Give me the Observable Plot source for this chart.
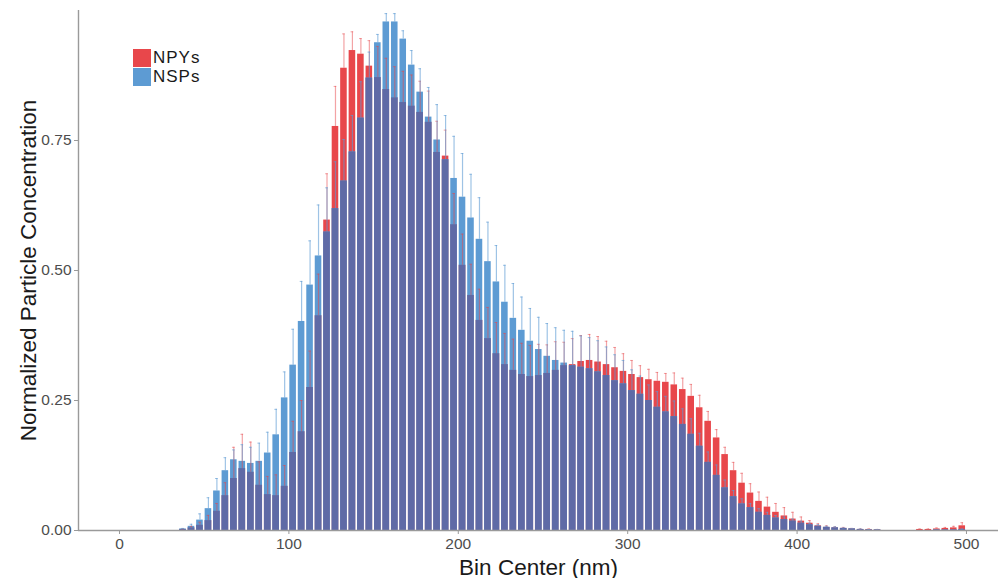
<!DOCTYPE html>
<html><head><meta charset="utf-8">
<script src="https://cdn.jsdelivr.net/npm/d3@7"></script>
<script src="https://cdn.jsdelivr.net/npm/@observablehq/plot@0.6"></script>
<style>
body{margin:0;background:#fff;font-family:"Liberation Sans",Arial,sans-serif;}
#wrap{position:relative;width:1000px;height:578px;}
#legend{position:absolute;left:133px;top:48px;font-size:17px;letter-spacing:1px;color:#1a1a1a;line-height:19px}
#legend div{height:19px;display:flex;align-items:center}
.sw{display:inline-block;width:18px;height:18px;margin-right:2px}
g[aria-label="x-axis label"] text, g[aria-label="y-axis label"] text{font-size:22.5px;fill:#1a1a1a}
</style></head><body><div id="wrap"></div>
<script>
const bins = [37.5,42.5,47.5,52.5,57.5,62.5,67.5,72.5,77.5,82.5,
87.5,92.5,97.5,102.5,107.5,112.5,117.5,122.5,127.5,132.5,
137.5,142.5,147.5,152.5,157.5,162.5,167.5,172.5,177.5,182.5,
187.5,192.5,197.5,202.5,207.5,212.5,217.5,222.5,227.5,232.5,
237.5,242.5,247.5,252.5,257.5,262.5,267.5,272.5,277.5,282.5,
287.5,292.5,297.5,302.5,307.5,312.5,317.5,322.5,327.5,332.5,
337.5,342.5,347.5,352.5,357.5,362.5,367.5,372.5,377.5,382.5,
387.5,392.5,397.5,402.5,407.5,412.5,417.5,422.5,427.5,432.5,
437.5,442.5,447.5,452.5,457.5,462.5,467.5,472.5,477.5,482.5,
487.5,492.5,497.5];
const npy = [0.002,0.005,0.010,0.019,0.037,0.067,0.100,0.119,0.112,0.087,
0.069,0.067,0.085,0.150,0.190,0.275,0.413,0.597,0.777,0.889,
0.923,0.916,0.893,0.871,0.848,0.832,0.823,0.816,0.804,0.785,
0.727,0.720,0.588,0.510,0.452,0.404,0.369,0.340,0.319,0.308,
0.300,0.296,0.298,0.302,0.308,0.317,0.319,0.325,0.327,0.324,
0.319,0.313,0.306,0.300,0.294,0.290,0.287,0.285,0.280,0.271,
0.258,0.236,0.210,0.178,0.146,0.115,0.091,0.072,0.056,0.045,
0.035,0.028,0.022,0.018,0.014,0.009,0.006,0.005,0.004,0.003,
0.002,0.002,0.001,0,0,0,0,0.002,0.002,0.003,
0.004,0.005,0.009];
const nsp = [0.003,0.008,0.020,0.042,0.076,0.115,0.136,0.133,0.129,0.133,
0.149,0.184,0.255,0.318,0.402,0.472,0.528,0.574,0.619,0.672,
0.728,0.793,0.870,0.938,0.978,0.978,0.945,0.895,0.843,0.795,
0.751,0.713,0.677,0.641,0.601,0.560,0.517,0.478,0.439,0.408,
0.385,0.364,0.348,0.335,0.327,0.322,0.317,0.314,0.311,0.305,
0.298,0.288,0.282,0.269,0.262,0.250,0.237,0.228,0.219,0.204,
0.185,0.162,0.131,0.106,0.082,0.065,0.051,0.044,0.035,0.029,
0.024,0.021,0.018,0.014,0.011,0.008,0.006,0.005,0.004,0.003,
0.002,0.001,0.001,0,0,0,0,0,0,0.001,
0.001,0.001,0.002];
const npyErr = [0.001,0.003,0.006,0.010,0.015,0.025,0.060,0.066,0.058,0.045,
0.035,0.040,0.040,0.060,0.060,0.070,0.080,0.089,0.077,0.066,
0.036,0.030,0.049,0.060,0.060,0.060,0.060,0.060,0.060,0.060,
0.060,0.050,0.060,0.060,0.060,0.060,0.060,0.060,0.060,0.060,
0.060,0.060,0.060,0.055,0.055,0.045,0.050,0.050,0.050,0.049,
0.045,0.039,0.034,0.027,0.023,0.020,0.017,0.017,0.023,0.022,
0.023,0.024,0.019,0.016,0.014,0.016,0.019,0.018,0.018,0.019,
0.017,0.016,0.013,0.008,0.005,0.004,0.003,0.002,0.002,0.001,
0.001,0.001,0.001,0,0,0,0,0.001,0.001,0.002,
0.002,0.003,0.006];
const nspErr = [0.001,0.004,0.012,0.021,0.024,0.025,0.019,0.032,0.031,0.035,
0.040,0.049,0.050,0.069,0.077,0.085,0.098,0.085,0.090,0.080,
0.070,0.070,0.050,0.016,0.016,0.016,0.016,0.028,0.045,0.057,
0.068,0.085,0.081,0.084,0.084,0.080,0.076,0.070,0.071,0.067,
0.064,0.063,0.062,0.063,0.063,0.063,0.066,0.060,0.060,0.060,
0.055,0.050,0.045,0.040,0.035,0.030,0.030,0.030,0.030,0.030,
0.030,0.025,0.020,0.020,0.015,0.012,0.010,0.008,0.007,0.006,
0.005,0.005,0.004,0.004,0.003,0.003,0.002,0.002,0.001,0.001,
0.001,0.001,0.001,0,0,0,0,0,0,0,
0,0,0.001];
const xTicks = [0,100,200,300,400,500];
const yTicks = [0,0.25,0.5,0.75];
const seriesNames = ["NPYs","NSPs"];
const colRed = "#e8474b", colBlue = "#5d9bd3", colBoth = "#5f6aa6";

const binW = 5;
const data = bins.map((c,i)=>({c, npy:npy[i], nsp:nsp[i], npyErr:npyErr[i], nspErr:nspErr[i], both:Math.min(npy[i],nsp[i])}));
const xmin = -24.2, xmax = 518.9;
const barOpts = {x1:d=>d.c-binW/2, x2:d=>d.c+binW/2, insetLeft:0.95, insetRight:0.95};
const eR = data.filter(d=>d.npyErr>0), eB = data.filter(d=>d.nspErr>0);

const plot = Plot.plot({
  width:1000, height:578, marginLeft:78, marginRight:2, marginTop:10, marginBottom:48,
  style:{fontFamily:"Liberation Sans, Arial, sans-serif", fontSize:"15.5px", color:"#4d4d4d", background:"#fff"},
  x:{domain:[xmin,xmax]},
  y:{domain:[0,1]},
  marks:[
    Plot.rectY(data,{...barOpts, y:"npy", fill:colRed}),
    Plot.rectY(data,{...barOpts, y:"nsp", fill:colBlue}),
    Plot.rectY(data,{...barOpts, y:"both", fill:colBoth}),
    Plot.ruleX(eR,{x:"c", y1:"npy", y2:d=>d.npy+d.npyErr, stroke:colRed, strokeOpacity:0.5, strokeWidth:1.2}),
    Plot.ruleY(eR,{y:d=>d.npy+d.npyErr, x1:d=>d.c-0.8, x2:d=>d.c+0.8, stroke:colRed, strokeOpacity:0.5, strokeWidth:1}),
    Plot.ruleX(eB,{x:"c", y1:"nsp", y2:d=>d.nsp+d.nspErr, stroke:colBlue, strokeOpacity:0.6, strokeWidth:1.2}),
    Plot.ruleY(eB,{y:d=>d.nsp+d.nspErr, x1:d=>d.c-0.8, x2:d=>d.c+0.8, stroke:colBlue, strokeOpacity:0.6, strokeWidth:1}),
    Plot.ruleX([xmin],{stroke:"#9a9a9a", strokeWidth:1.4}),
    Plot.ruleY([0],{stroke:"#9a9a9a", strokeWidth:1.4}),
    Plot.axisX({ticks:xTicks, tickSize:4, tickPadding:3, stroke:"#9a9a9a", fill:"#4d4d4d",
      label:"Bin Center (nm)", labelAnchor:"center", labelArrow:"none", labelOffset:44}),
    Plot.axisY({ticks:yTicks, tickFormat:d3.format(".2f"), tickSize:4, tickPadding:3, stroke:"#9a9a9a", fill:"#4d4d4d",
      label:"Normalized Particle Concentration", labelAnchor:"center", labelArrow:"none", labelOffset:58})
  ]
});
const wrap = document.getElementById("wrap");
wrap.appendChild(plot);
const leg = document.createElement("div");
leg.id = "legend";
leg.innerHTML = seriesNames.map((n,i)=>`<div><span class="sw" style="background:${i?colBlue:colRed}"></span>${n}</div>`).join("");
wrap.appendChild(leg);
</script></body></html>
